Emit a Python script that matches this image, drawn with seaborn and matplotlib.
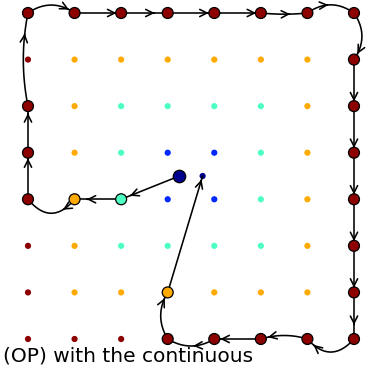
import numpy as np
import pandas as pd
import matplotlib
matplotlib.use("Agg")
import matplotlib.pyplot as plt
import seaborn as sns

sns.set_theme(style="white")
plt.rcParams['font.family'] = ['DejaVu Sans']

# 8x8 grid + two centre points (col, row counted from bottom)
grid_cols = list(range(8))
grid_rows = list(range(8))
centre_x = [3.25, 3.75]
centre_y = [3.5, 3.5]

# colour of each ring (Chebyshev distance from the centre)
ring_colors = {0: "#00008f", 1: "#0028ff", 2: "#4effc4", 3: "#ffaa00", 4: "#8c0000"}

# path through the grid
path_x = [3.25, 2, 1, 0, 0, 0, 0, 1, 2, 3, 4, 5, 6, 7, 7, 7, 7, 7, 7, 7, 7, 6, 5, 4, 3, 3, 3.75]
path_y = [3.5, 3, 3, 3, 4, 5, 7, 7, 7, 7, 7, 7, 7, 7, 6, 5, 4, 3, 2, 1, 0, 0, 0, 0, 0, 1, 3.5]
# bend of each step (>0 bulges to the left of travel) and where its arrow head sits
step_bend = [0, 0, 0.6, 0, 0, 0.1, 0.34, 0, 0, 0, 0, -0.05, 0.35,
             0.34, 0, 0, 0, 0, 0, 0, 0.56, -0.15, 0, 0.3, 0.3, 0]
head_pos = [0.85, 0.74, 0.25, 0.88, 0.85, 0.78, 0.88, 0.9, 0.72, 0.88, 0.9, 0.63, 0.45,
            0.88, 0.9, 0.9, 0.9, 0.9, 0.9, 0.7, 0.87, 0.85, 0.87, 0.45, 0.88, 0.97]

caption = "(OP) with the continuous"


def ring_of(x, y):
    d = np.maximum(np.abs(np.asarray(x) - 3.5), np.abs(np.asarray(y) - 3.5))
    return np.floor(d + 0.5).astype(int)


gx, gy = np.meshgrid(grid_cols, grid_rows)
pts = pd.DataFrame({"x": np.r_[gx.ravel(), centre_x], "y": np.r_[gy.ravel(), centre_y]})
pts["ring"] = ring_of(pts["x"], pts["y"])

nodes = pd.DataFrame({"x": path_x[:-1], "y": path_y[:-1]})
nodes["ring"] = ring_of(nodes["x"], nodes["y"])

fig = plt.figure(figsize=(3.83, 3.66), dpi=100)
ax = fig.add_axes([0, 0, 1, 1])
ax.set_xlim(-0.601, 7.623)
ax.set_ylim(-0.58, 7.279)
ax.axis("off")

sns.scatterplot(data=pts, x="x", y="y", hue="ring", palette=ring_colors, s=20,
                linewidth=0, legend=False, ax=ax, zorder=1)

# curved steps with arrow heads
for i in range(len(path_x) - 1):
    a = np.array([path_x[i], path_y[i]], float)
    b = np.array([path_x[i + 1], path_y[i + 1]], float)
    d = b - a
    c = (a + b) / 2 + step_bend[i] * np.array([-d[1], d[0]])
    t = np.linspace(0, 1, 60)[:, None]
    curve = (1 - t) ** 2 * a + 2 * (1 - t) * t * c + t ** 2 * b
    ax.plot(curve[:, 0], curve[:, 1], color="black", lw=1.15, zorder=2)
    th = head_pos[i]
    p = (1 - th) ** 2 * a + 2 * (1 - th) * th * c + th ** 2 * b
    tan = 2 * (1 - th) * (c - a) + 2 * th * (b - c)
    tan = tan / np.linalg.norm(tan)
    ax.annotate("", xy=p, xytext=p - 0.02 * tan,
                arrowprops=dict(arrowstyle="->", color="black", lw=1.15,
                                mutation_scale=13, shrinkA=0, shrinkB=0), zorder=2)

sns.scatterplot(data=nodes.iloc[1:], x="x", y="y", hue="ring", palette=ring_colors, s=62,
                edgecolor="black", linewidth=0.9, legend=False, ax=ax, zorder=3)
sns.scatterplot(data=nodes.iloc[:1], x="x", y="y", hue="ring", palette=ring_colors, s=80,
                edgecolor="black", linewidth=0.9, legend=False, ax=ax, zorder=3)

fig.text(3 / 383, 5 / 366, caption, fontsize=14.5, color="black", va="baseline", ha="left")

fig.savefig("out.png", dpi=100)
